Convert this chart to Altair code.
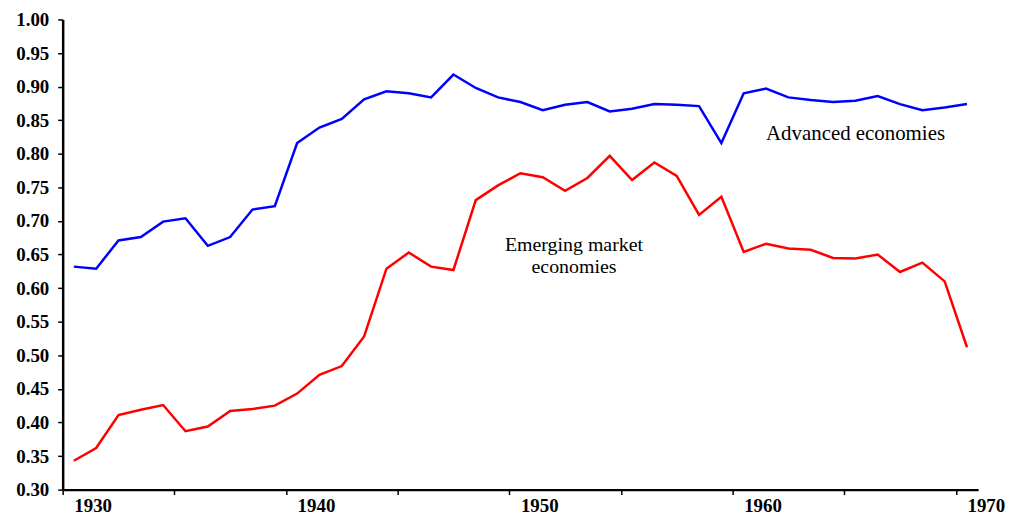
import altair as alt
import pandas as pd

# ---- data ----
years = list(range(1929, 1970))

advanced = [0.632, 0.629, 0.671, 0.676, 0.699, 0.704, 0.663, 0.676, 0.717, 0.722,
            0.816, 0.839, 0.852, 0.881, 0.893, 0.890, 0.884, 0.918, 0.898, 0.884,
            0.877, 0.865, 0.873, 0.877, 0.863, 0.867, 0.874, 0.873, 0.871, 0.816,
            0.890, 0.897, 0.884, 0.880, 0.877, 0.879, 0.886, 0.874, 0.865, 0.869, 0.874]

emerging = [0.343, 0.362, 0.411, 0.419, 0.426, 0.387, 0.394, 0.417, 0.420, 0.425,
            0.443, 0.471, 0.484, 0.528, 0.629, 0.653, 0.632, 0.627, 0.731, 0.753,
            0.771, 0.765, 0.745, 0.764, 0.797, 0.761, 0.787, 0.767, 0.709, 0.736,
            0.654, 0.666, 0.659, 0.657, 0.645, 0.644, 0.650, 0.624, 0.638, 0.610, 0.512]

series_names = ["Advanced economies", "Emerging market economies"]
series_colors = ["#0000ff", "#ff0000"]

year_labels = [1930, 1940, 1950, 1960, 1970]
x_ticks = [1928.5, 1933.5, 1938.5, 1943.5, 1948.5, 1953.5, 1958.5, 1963.5, 1968.5]
y_ticks = [0.30, 0.35, 0.40, 0.45, 0.50, 0.55, 0.60, 0.65, 0.70, 0.75,
           0.80, 0.85, 0.90, 0.95, 1.00]

df = pd.DataFrame({
    "year": years + years,
    "value": advanced + emerging,
    "series": [series_names[0]] * len(years) + [series_names[1]] * len(years),
})
lab_df = pd.DataFrame({"year": year_labels, "label": [str(y) for y in year_labels]})

FONT = "Liberation Serif, Times New Roman, serif"

x_scale = alt.Scale(domain=[1928.5, 1969.5], nice=False, zero=False)
y_scale = alt.Scale(domain=[0.30, 1.00], nice=False, zero=False)

lines = alt.Chart(df).mark_line(strokeWidth=2.5).encode(
    x=alt.X("year:Q", scale=x_scale,
            axis=alt.Axis(values=x_ticks, tickCount=20, labels=False, title=None,
                          grid=False, tickSize=5, tickWidth=1.5, tickColor="black",
                          domainColor="black", domainWidth=2.5)),
    y=alt.Y("value:Q", scale=y_scale,
            axis=alt.Axis(values=y_ticks, tickCount=30, format=".2f", title=None,
                          grid=False, tickSize=5, tickWidth=1.5, tickColor="black",
                          domainColor="black", domainWidth=2.5,
                          labelOverlap=False,
                          labelFont=FONT, labelFontWeight="bold", labelFontSize=19,
                          labelColor="black", labelPadding=9)),
    color=alt.Color("series:N",
                    scale=alt.Scale(domain=series_names, range=series_colors),
                    legend=None),
)

xlabels = alt.Chart(lab_df).mark_text(
    font=FONT, fontWeight="bold", fontSize=19, color="black",
    align="center", baseline="alphabetic", dx=-3, dy=23, clip=False,
).encode(
    x=alt.X("year:Q", scale=x_scale),
    y=alt.datum(0.30),
    text="label:N",
)

ann_adv = alt.Chart(pd.DataFrame({"x": [1960.0], "y": [0.821]})).mark_text(
    font=FONT, fontSize=21, color="black", align="left", baseline="alphabetic",
).encode(x="x:Q", y="y:Q", text=alt.value("Advanced economies"))

ann_em = alt.Chart(pd.DataFrame({"x": [1951.4], "y": [0.655]})).mark_text(
    font=FONT, fontSize=20, color="black", align="center", baseline="alphabetic",
    lineHeight=22,
).encode(x="x:Q", y="y:Q", text=alt.value(["Emerging market", "economies"]))

chart = alt.layer(lines, xlabels, ann_adv, ann_em).properties(
    width=921, height=473,
    autosize=alt.AutoSizeParams(type="none"),
    padding={"left": 55, "top": 10, "right": 28, "bottom": 24},
    background="white",
).configure_view(stroke=None)

chart.save("out.html", embed_options={"renderer": "svg", "actions": False})
